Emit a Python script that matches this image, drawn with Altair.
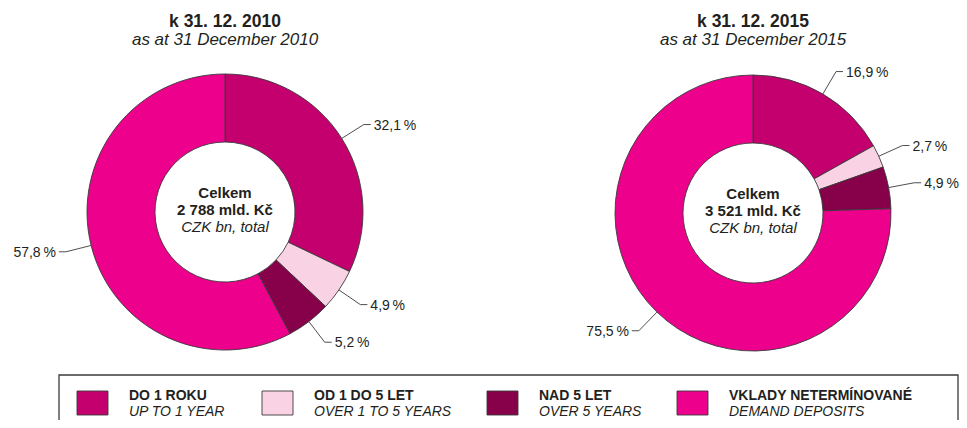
import altair as alt
import pandas as pd

# ---------------- data ----------------
categories = ["DO 1 ROKU", "OD 1 DO 5 LET", "NAD 5 LET", "VKLADY NETERMÍNOVANÉ"]
categories_en = ["UP TO 1 YEAR", "OVER 1 TO 5 YEARS", "OVER 5 YEARS", "DEMAND DEPOSITS"]
years = ["2010", "2015"]
values_2010 = [32.1, 4.9, 5.2, 57.8]
values_2015 = [16.9, 2.7, 4.9, 75.5]
titles_cz = ["k 31. 12. 2010", "k 31. 12. 2015"]
titles_en = ["as at 31 December 2010", "as at 31 December 2015"]
center_top = "Celkem"
totals = ["2 788 mld. Kč", "3 521 mld. Kč"]
center_bottom = "CZK bn, total"

# ---------------- style / layout ----------------
colors = ["#C4006F", "#F9D3E4", "#86004A", "#EC008C"]
W, H = 951, 412
centers = {"2010": (217, 204), "2015": (745, 205)}
R_OUT, R_IN = 138, 70
LEAD, HOOK, GAP = 26, 7, 3
legend_x = [69, 254, 479, 669]
FONT = "Liberation Sans"
INK = "#231f20"
LINE = "#3a3a3a"
LABEL_SIZE = 14

color_scale = alt.Scale(domain=categories, range=colors)


def donut(i, year, values):
    cx, cy = centers[year]
    df = pd.DataFrame({
        "cat": categories,
        "idx": list(range(len(categories))),
        "value": values,
        "label": [f"{v:.1f}".replace(".", ",") + "\u2009%" for v in values],
    })
    base = alt.Chart(df)
    arcs = base.mark_arc(
        x=cx, y=cy, radius=R_OUT, innerRadius=R_IN,
        stroke=LINE, strokeWidth=0.9,
    ).encode(
        theta=alt.Theta("value:Q", stack=True),
        color=alt.Color("cat:N", scale=color_scale, legend=None),
        order=alt.Order("idx:Q", sort="ascending"),
    )
    geo = base.transform_window(
        cum="sum(value)", sort=[alt.SortField("idx")], frame=[None, 0]
    ).transform_joinaggregate(total="sum(value)").transform_calculate(
        ang="2*PI*(datum.cum - datum.value/2)/datum.total"
    ).transform_calculate(
        side="sin(datum.ang) >= 0 ? 1 : -1"
    ).transform_calculate(
        x1=f"{cx} + {R_OUT}*sin(datum.ang)",
        y1=f"{cy} - {R_OUT}*cos(datum.ang)",
        x2=f"{cx} + {R_OUT + LEAD}*sin(datum.ang)",
        y2=f"{cy} - {R_OUT + LEAD}*cos(datum.ang)",
    ).transform_calculate(
        x3=f"datum.x2 + {HOOK}*datum.side"
    ).transform_calculate(
        tx=f"datum.x3 + {GAP}*datum.side"
    )
    rule1 = geo.mark_rule(color=LINE, strokeWidth=0.9).encode(
        x=alt.X("x1:Q", scale=None, axis=None),
        y=alt.Y("y1:Q", scale=None, axis=None),
        x2="x2:Q", y2="y2:Q",
    )
    rule2 = geo.mark_rule(color=LINE, strokeWidth=0.9).encode(
        x=alt.X("x2:Q", scale=None, axis=None),
        y=alt.Y("y2:Q", scale=None, axis=None),
        x2="x3:Q", y2="y2:Q",
    )
    txt_r = geo.transform_filter("datum.side > 0").mark_text(
        align="left", baseline="middle", font=FONT, fontSize=LABEL_SIZE, color=INK, dy=1
    ).encode(
        x=alt.X("tx:Q", scale=None, axis=None),
        y=alt.Y("y2:Q", scale=None, axis=None),
        text="label:N",
    )
    txt_l = geo.transform_filter("datum.side < 0").mark_text(
        align="right", baseline="middle", font=FONT, fontSize=LABEL_SIZE, color=INK, dy=1
    ).encode(
        x=alt.X("tx:Q", scale=None, axis=None),
        y=alt.Y("y2:Q", scale=None, axis=None),
        text="label:N",
    )
    tdf = pd.DataFrame({
        "t1": [titles_cz[i]], "t2": [titles_en[i]],
        "c1": [center_top], "c2": [totals[i]], "c3": [center_bottom],
    })
    tb = alt.Chart(tdf)
    t1 = tb.mark_text(font=FONT, fontSize=17.5, fontWeight="bold", color=INK,
                      align="center", baseline="alphabetic").encode(
        x=alt.value(cx), y=alt.value(19), text="t1:N")
    t2 = tb.mark_text(font=FONT, fontSize=17, fontStyle="italic", color=INK,
                      align="center", baseline="alphabetic").encode(
        x=alt.value(cx), y=alt.value(37), text="t2:N")
    c1 = tb.mark_text(font=FONT, fontSize=15, fontWeight="bold", color=INK,
                      align="center", baseline="alphabetic").encode(
        x=alt.value(cx), y=alt.value(cy - 14), text="c1:N")
    c2 = tb.mark_text(font=FONT, fontSize=15, fontWeight="bold", color=INK,
                      align="center", baseline="alphabetic").encode(
        x=alt.value(cx), y=alt.value(cy + 3), text="c2:N")
    c3 = tb.mark_text(font=FONT, fontSize=15, fontStyle="italic", color=INK,
                      align="center", baseline="alphabetic").encode(
        x=alt.value(cx), y=alt.value(cy + 20), text="c3:N")
    return [arcs, rule1, rule2, txt_r, txt_l, t1, t2, c1, c2, c3]


layers = []
layers += donut(0, "2010", values_2010)
layers += donut(1, "2015", values_2015)

# ---------------- legend ----------------
ldf = pd.DataFrame({
    "cat": categories,
    "en": categories_en,
    "lx": legend_x,
})
ldf["lx2"] = ldf["lx"] + 31
ldf["tx"] = ldf["lx"] + 52
lb = alt.Chart(ldf)

box = alt.Chart(pd.DataFrame({"b": [0]})).mark_rect(
    fill="white", fillOpacity=0, stroke=LINE, strokeWidth=1.3
).encode(x=alt.value(51), x2=alt.value(950), y=alt.value(367), y2=alt.value(H + 10))

swatch = lb.mark_rect(stroke=LINE, strokeWidth=0.9).encode(
    x=alt.X("lx:Q", scale=None, axis=None),
    x2="lx2:Q",
    y=alt.value(383), y2=alt.value(407),
    color=alt.Color("cat:N", scale=color_scale, legend=None),
)
ltxt1 = lb.mark_text(font=FONT, fontSize=14, fontWeight="bold", color=INK,
                     align="left", baseline="alphabetic").encode(
    x=alt.X("tx:Q", scale=None, axis=None), y=alt.value(392), text="cat:N")
ltxt2 = lb.mark_text(font=FONT, fontSize=14, fontStyle="italic", color=INK,
                     align="left", baseline="alphabetic").encode(
    x=alt.X("tx:Q", scale=None, axis=None), y=alt.value(408), text="en:N")

layers += [box, swatch, ltxt1, ltxt2]

chart = alt.layer(*layers).properties(
    width=W, height=H, padding=0, background="white",
    autosize=alt.AutoSizeParams(type="none"),
).configure_view(stroke=None)

chart.save("out.html", embed_options={"renderer": "svg", "actions": False})
